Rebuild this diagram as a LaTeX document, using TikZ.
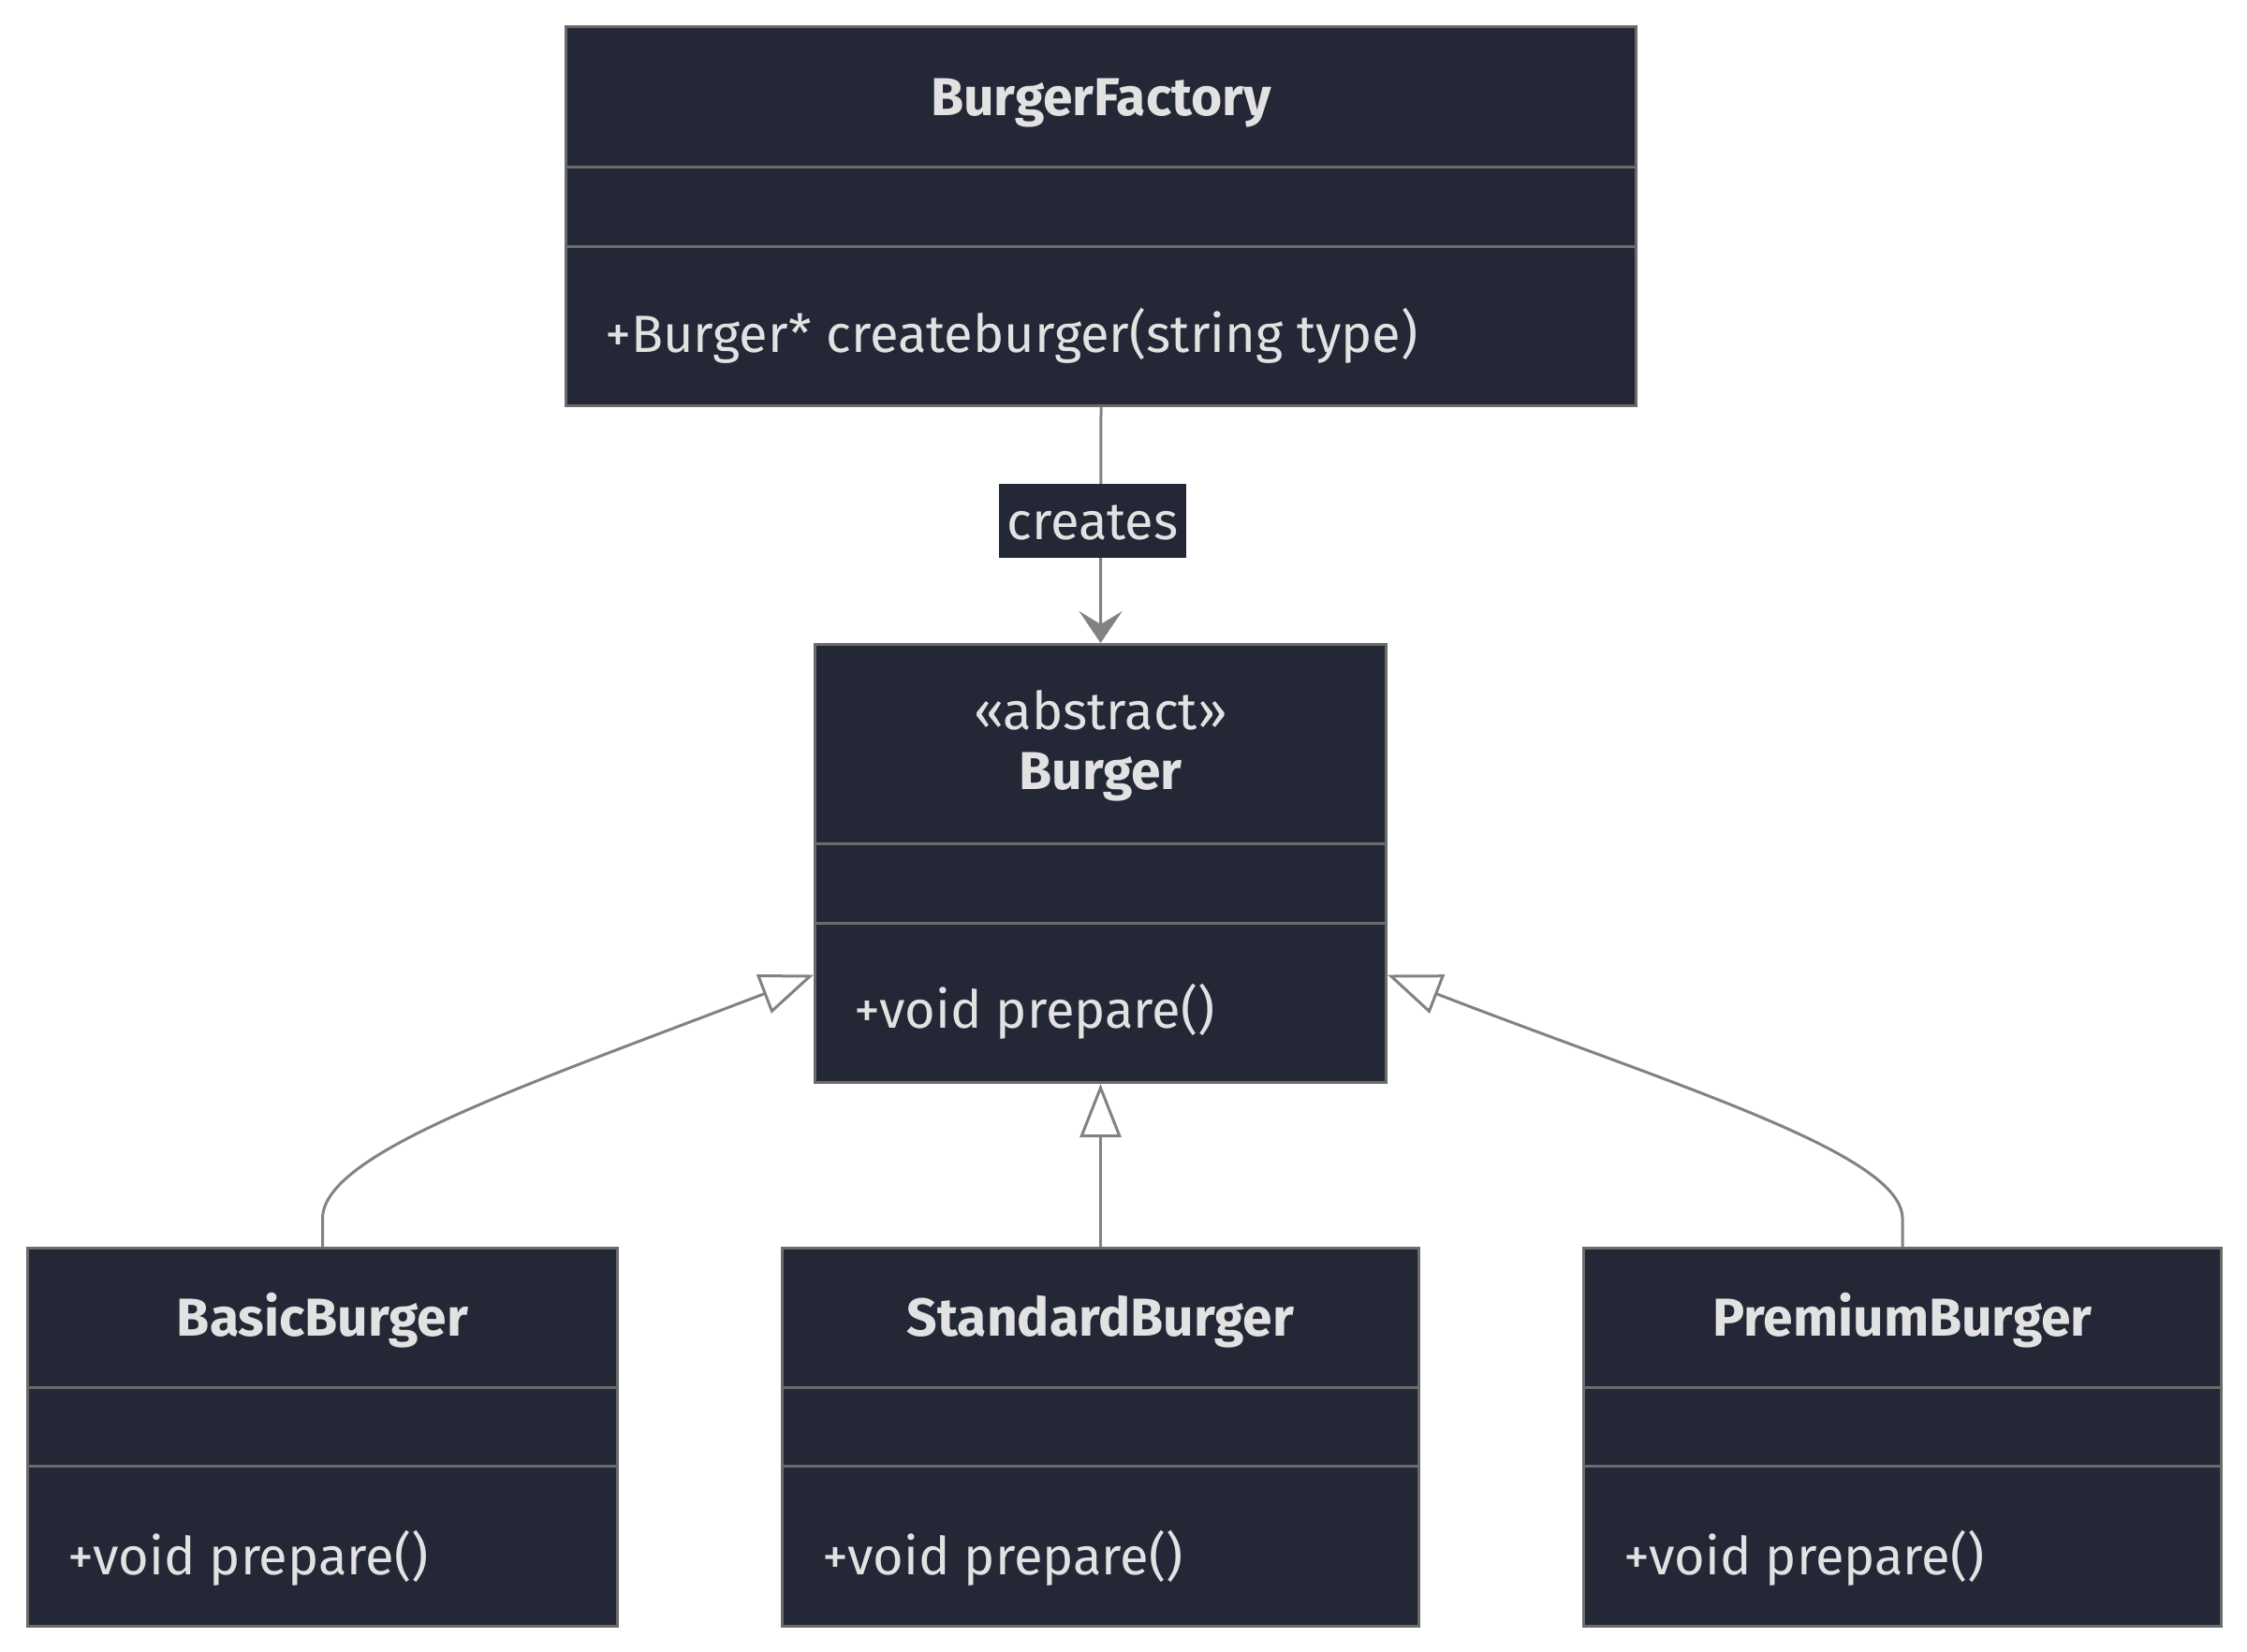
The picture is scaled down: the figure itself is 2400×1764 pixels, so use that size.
\documentclass[tikz,border=0pt]{standalone}
\usepackage{fontspec}
\setmainfont{Fira Sans}
\usetikzlibrary{arrows.meta,calc}
\definecolor{boxfill}{HTML}{242736}
\definecolor{boxline}{HTML}{6B6B6B}
\definecolor{edgecol}{HTML}{828282}
\definecolor{txt}{HTML}{E2E2E2}
\begin{document}
\begin{tikzpicture}[x=1pt,y=-1pt,
  cls/.style={draw=boxline, fill=boxfill, line width=3pt, rectangle, inner sep=0pt, anchor=north west},
  divider/.style={draw=boxline, line width=3pt},
  ttl/.style={text=txt, font=\fontsize{57}{66}\selectfont\bfseries, inner sep=0pt, anchor=base},
  stereo/.style={text=txt, font=\fontsize{56}{66}\selectfont, inner sep=0pt, anchor=base},
  meth/.style={text=txt, font=\fontsize{56}{66}\selectfont, inner sep=0pt, anchor=base west},
  lbl/.style={fill=boxfill, text=txt, font=\fontsize{56}{66}\selectfont, inner sep=0pt, minimum width=200pt, minimum height=79pt},
  edge/.style={draw=edgecol, line width=3pt},
  inherit/.style={edge, -{Triangle[length=57pt, width=44pt, fill=white]}},
  assoc/.style={edge, -{Stealth[length=34pt, width=46pt, inset=14pt]}}
]
\useasboundingbox (0,0) rectangle (2400,1764);
\fill[white] (0,0) rectangle (2400,1764);

% BurgerFactory
\node[cls, minimum width=1143pt, minimum height=405pt] (factory) at (603,27) {};
\draw[divider] (factory.west |- 0,178) -- (factory.east |- 0,178);
\draw[divider] (factory.west |- 0,263) -- (factory.east |- 0,263);
\node[ttl] (factoryT) at (factory.center |- 0,123) {BurgerFactory};
\node[meth] (factoryM) at (646,376) {+Burger* createburger(string type)};

% Burger
\node[cls, minimum width=610pt, minimum height=468pt] (burger) at (869,687) {};
\draw[divider] (burger.west |- 0,901) -- (burger.east |- 0,901);
\draw[divider] (burger.west |- 0,986) -- (burger.east |- 0,986);
\node[stereo] (burgerS) at (burger.center |- 0,779) {«abstract»};
\node[ttl] (burgerT) at (burger.center |- 0,843) {Burger};
\node[meth] (burgerM) at (912,1098) {+void prepare()};

% BasicBurger
\node[cls, minimum width=630pt, minimum height=404pt] (basic) at (28,1332) {};
\draw[divider] (basic.west |- 0,1482) -- (basic.east |- 0,1482);
\draw[divider] (basic.west |- 0,1566) -- (basic.east |- 0,1566);
\node[ttl] (basicT) at (basic.center |- 0,1427) {BasicBurger};
\node[meth] (basicM) at (72,1682) {+void prepare()};

% StandardBurger
\node[cls, minimum width=680pt, minimum height=404pt] (standard) at (834,1332) {};
\draw[divider] (standard.west |- 0,1482) -- (standard.east |- 0,1482);
\draw[divider] (standard.west |- 0,1566) -- (standard.east |- 0,1566);
\node[ttl] (standardT) at (standard.center |- 0,1427) {StandardBurger};
\node[meth] (standardM) at (878,1682) {+void prepare()};

% PremiumBurger
\node[cls, minimum width=681pt, minimum height=404pt] (premium) at (1690,1332) {};
\draw[divider] (premium.west |- 0,1482) -- (premium.east |- 0,1482);
\draw[divider] (premium.west |- 0,1566) -- (premium.east |- 0,1566);
\node[ttl] (premiumT) at (premium.center |- 0,1427) {PremiumBurger};
\node[meth] (premiumM) at (1734,1682) {+void prepare()};

% association
\draw[assoc] (factory.south) -- (burger.north);
\node[lbl] (creates) at (1167,556) {};
\node[text=txt, font=\fontsize{56}{66}\selectfont, inner sep=0pt, anchor=base] (createsT) at (1167,576) {creates};

% inheritance
\draw[inherit] (basic.north) -- ++(0,-30) .. controls +(0,-70) and (560,1160) .. ([yshift=-119pt]burger.west);
\draw[inherit] (standard.north) -- (burger.south);
\draw[inherit] (premium.north) -- ++(0,-30) .. controls +(0,-70) and (1788,1160) .. ([yshift=-119pt]burger.east);
\end{tikzpicture}
\end{document}
